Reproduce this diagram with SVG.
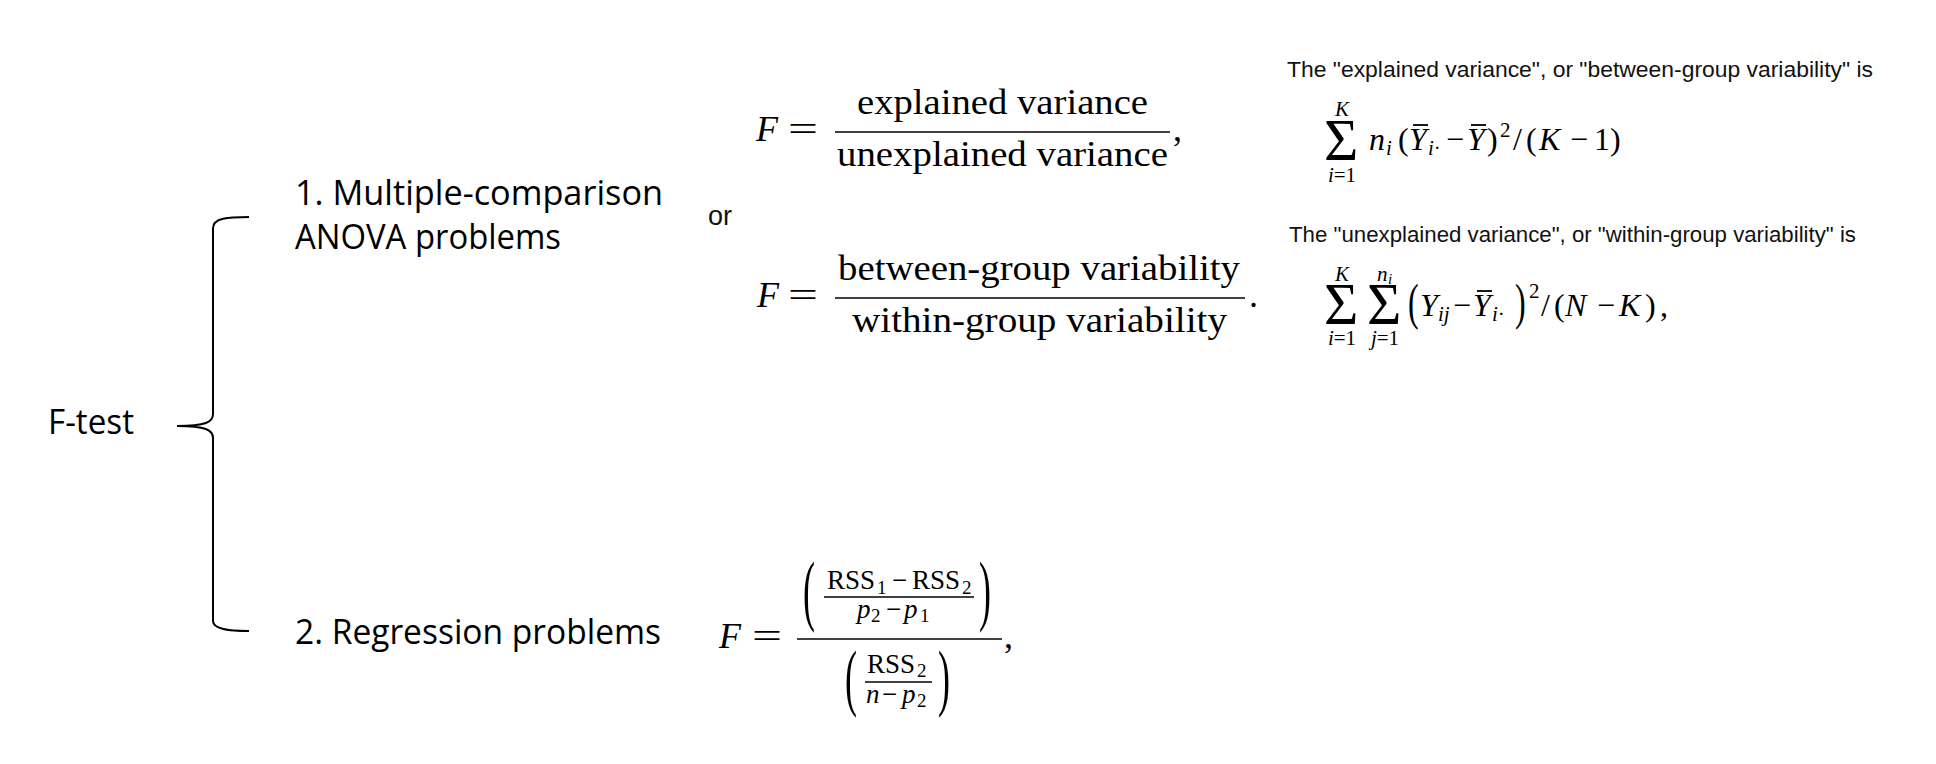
<svg xmlns="http://www.w3.org/2000/svg" width="1936" height="764" viewBox="0 0 1936 764">
<style>
.lbl{font-family:"Open Sans",Lato,"Liberation Sans",sans-serif;font-size:34px;fill:#000}
.or{font-family:"Liberation Sans",Arial,sans-serif;font-size:27px;fill:#111}
.hdr{font-family:"Liberation Sans",Arial,sans-serif;font-size:22.5px;fill:#111}
.m{font-family:"Liberation Serif","Times New Roman",serif;fill:#000}
.i{font-style:italic}
.bar{stroke:#000;stroke-width:1.6;fill:none}
.ob{stroke:#000;stroke-width:1.8;fill:none}
.brace{stroke:#000;stroke-width:2;fill:none}
</style>
<rect width="1936" height="764" fill="#fff"/>

<g id="connectors">
<path class="brace" d="M249,217 C228,217 213,218 213,228 L213,414 C213,422 206,426 177,426 C206,426 213,430 213,438 L213,621 C213,629 228,631 249,631"/>
</g>

<g id="node-ftest">
<text class="lbl" x="48" y="434" textLength="86" lengthAdjust="spacingAndGlyphs">F-test</text>
</g>

<g id="node-anova">
<text class="lbl" x="295" y="205" textLength="368" lengthAdjust="spacingAndGlyphs">1. Multiple-comparison</text>
<text class="lbl" x="295" y="249" textLength="266" lengthAdjust="spacingAndGlyphs">ANOVA problems</text>
</g>

<g id="node-or">
<text class="or" x="708" y="225">or</text>
</g>

<g id="node-regression">
<text class="lbl" x="295" y="644" textLength="366" lengthAdjust="spacingAndGlyphs">2. Regression problems</text>
</g>

<g id="node-formula1">
<text class="m i" x="756" y="141" font-size="36">F</text>
<text class="m" x="788" y="141" font-size="36" textLength="30" lengthAdjust="spacingAndGlyphs">=</text>
<text class="m" x="857" y="114" font-size="35" textLength="291" lengthAdjust="spacingAndGlyphs">explained variance</text>
<line class="bar" x1="835" y1="132" x2="1170" y2="132"/>
<text class="m" x="837" y="166" font-size="35" textLength="331" lengthAdjust="spacingAndGlyphs">unexplained variance</text>
<text class="m" x="1173" y="141" font-size="36">,</text>
</g>

<g id="node-formula2">
<text class="m i" x="757" y="307" font-size="36">F</text>
<text class="m" x="788" y="307" font-size="36" textLength="30" lengthAdjust="spacingAndGlyphs">=</text>
<text class="m" x="838" y="280" font-size="35" textLength="402" lengthAdjust="spacingAndGlyphs">between-group variability</text>
<line class="bar" x1="835" y1="298" x2="1245" y2="298"/>
<text class="m" x="852" y="332" font-size="35" textLength="375" lengthAdjust="spacingAndGlyphs">within-group variability</text>
<text class="m" x="1249" y="307" font-size="36">.</text>
</g>

<g id="node-explained">
<text class="hdr" x="1287" y="77" textLength="586" lengthAdjust="spacingAndGlyphs">The "explained variance", or "between-group variability" is</text>
<text class="m" x="1324" y="160" font-size="59">Σ</text>
<text class="m i" x="1342" y="116" font-size="21" text-anchor="middle">K</text>
<text class="m" x="1342" y="182" font-size="21" text-anchor="middle"><tspan class="i">i</tspan>=1</text>
<g font-size="32">
<text class="m i" x="1369" y="150">n</text>
<text class="m i" x="1386" y="155" font-size="21">i</text>
<text class="m" x="1398" y="150">(</text>
<text class="m i" x="1409" y="150">Y</text>
<line class="ob" x1="1413" y1="125" x2="1428" y2="125"/>
<text class="m" x="1428" y="155" font-size="21"><tspan class="i">i</tspan>·</text>
<text class="m" x="1446" y="150">−</text>
<text class="m i" x="1467" y="150">Y</text>
<line class="ob" x1="1471" y1="125" x2="1486" y2="125"/>
<text class="m" x="1487" y="150">)</text>
<text class="m" x="1500" y="137" font-size="21">2</text>
<text class="m" x="1513" y="150">/</text>
<text class="m" x="1526" y="150">(</text>
<text class="m i" x="1539" y="150">K</text>
<text class="m" x="1570" y="150">−</text>
<text class="m" x="1594" y="150">1</text>
<text class="m" x="1610" y="150">)</text>
</g>
</g>

<g id="node-unexplained">
<text class="hdr" x="1289" y="242" textLength="567" lengthAdjust="spacingAndGlyphs">The "unexplained variance", or "within-group variability" is</text>
<text class="m" x="1324" y="324" font-size="59">Σ</text>
<text class="m" x="1367" y="324" font-size="59">Σ</text>
<text class="m i" x="1342" y="281" font-size="21" text-anchor="middle">K</text>
<text class="m i" x="1377" y="281" font-size="21">n</text>
<text class="m i" x="1388" y="284" font-size="15">i</text>
<text class="m" x="1342" y="345" font-size="21" text-anchor="middle"><tspan class="i">i</tspan>=1</text>
<text class="m" x="1385" y="345" font-size="21" text-anchor="middle"><tspan class="i">j</tspan>=1</text>
<g font-size="32">
<text class="m" transform="translate(1408,319) scale(1,1.6)">(</text>
<text class="m i" x="1420" y="316">Y</text>
<text class="m i" x="1438" y="321" font-size="21">ij</text>
<text class="m" x="1453" y="316">−</text>
<text class="m i" x="1473" y="316">Y</text>
<line class="ob" x1="1477" y1="291" x2="1492" y2="291"/>
<text class="m" x="1492" y="321" font-size="21"><tspan class="i">i</tspan>·</text>
<text class="m" transform="translate(1515,319) scale(1,1.6)">)</text>
<text class="m" x="1529" y="298" font-size="21">2</text>
<text class="m" x="1541" y="316">/</text>
<text class="m" x="1554" y="316">(</text>
<text class="m i" x="1565" y="316">N</text>
<text class="m" x="1597" y="316">−</text>
<text class="m i" x="1619" y="316">K</text>
<text class="m" x="1645" y="316">)</text>
<text class="m" x="1660" y="316">,</text>
</g>
</g>

<g id="node-regformula">
<text class="m i" x="719" y="648" font-size="36">F</text>
<text class="m" x="752" y="648" font-size="36" textLength="30" lengthAdjust="spacingAndGlyphs">=</text>
<line class="bar" x1="797" y1="639" x2="1002" y2="639"/>
<text class="m" x="1004" y="648" font-size="36">,</text>
<text class="m" font-size="36" transform="translate(803,616) scale(1,2.2)">(</text>
<text class="m" font-size="36" transform="translate(979,616) scale(1,2.2)">)</text>
<text class="m" x="827" y="589" font-size="27">RSS</text>
<text class="m" x="877" y="594" font-size="19">1</text>
<text class="m" x="892" y="589" font-size="27">−</text>
<text class="m" x="912" y="589" font-size="27">RSS</text>
<text class="m" x="962" y="594" font-size="19">2</text>
<line class="bar" x1="824" y1="597" x2="974" y2="597"/>
<text class="m i" x="857" y="618" font-size="27">p</text>
<text class="m" x="871" y="622" font-size="19">2</text>
<text class="m" x="886" y="618" font-size="27">−</text>
<text class="m i" x="904" y="618" font-size="27">p</text>
<text class="m" x="920" y="622" font-size="19">1</text>
<text class="m" font-size="36" transform="translate(845,702) scale(1,2.05)">(</text>
<text class="m" font-size="36" transform="translate(938,702) scale(1,2.05)">)</text>
<text class="m" x="867" y="673" font-size="27">RSS</text>
<text class="m" x="917" y="677" font-size="19">2</text>
<line class="bar" x1="865" y1="682" x2="932" y2="682"/>
<text class="m i" x="866" y="703" font-size="27">n</text>
<text class="m" x="882" y="703" font-size="27">−</text>
<text class="m i" x="902" y="703" font-size="27">p</text>
<text class="m" x="917" y="707" font-size="19">2</text>
</g>
</svg>
